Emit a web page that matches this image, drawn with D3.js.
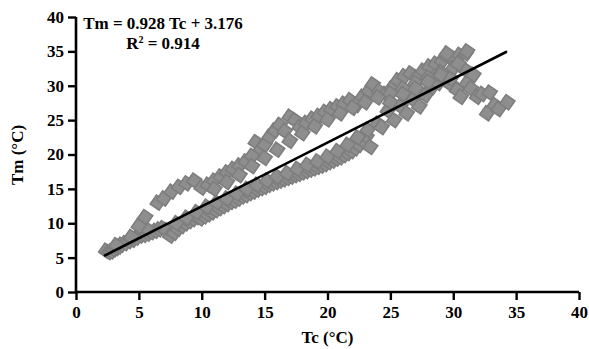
<!DOCTYPE html>
<html>
<head>
<meta charset="utf-8">
<script src="https://cdn.jsdelivr.net/npm/d3@7/dist/d3.min.js"></script>
<style>
  html, body { margin: 0; padding: 0; background: #fff; }
  svg text { font-family: "Times New Roman", "Liberation Serif", "DejaVu Serif", serif; font-weight: bold; fill: #000; }
</style>
</head>
<body>
<svg id="chart" width="589" height="349"></svg>
<script>
// ---- data ----
// lower branch
const lowTc = [2.4,2.6,2.8,3.0,3.2,3.4,3.6,3.9,4.2,4.5,4.8,5.1,5.4,5.7,6.0,6.3,6.6,6.9,7.2,7.5,7.8,8.1,8.4,8.7,9.0,9.3,9.6,9.9,10.2,10.5,10.8,11.1,11.4,11.7,12.0,12.3,12.6,12.9,13.2,13.5,13.8,14.1,14.4,14.7,15.0,15.3,15.6,15.9,16.2,16.5,16.8,17.1,17.4,17.7,18.0,18.3,18.6,18.9,19.2,19.5,19.8,20.1,20.4,20.7,21.0,21.3,21.6,21.9,22.2,22.5,22.8,23.1,23.4];
const lowTm = [6.0,5.8,5.9,6.2,6.4,6.6,6.9,7.1,7.4,7.6,7.9,8.2,8.3,8.5,8.7,8.9,9.1,9.3,9.0,8.2,8.6,9.2,9.6,10.0,10.3,10.6,10.9,10.7,11.0,11.3,11.6,11.9,12.2,12.5,12.8,13.1,13.3,13.6,13.9,14.1,14.4,14.6,14.9,15.1,15.3,15.6,15.8,16.0,16.2,16.4,16.6,16.8,17.0,17.2,17.4,17.6,17.8,18.0,18.2,18.4,18.6,18.9,19.1,19.4,19.6,19.9,20.2,20.5,20.9,21.4,22.0,22.6,21.1];
const low2Tc = [3.2,4.4,5.6,8.0,8.8,9.6,10.4,11.2,12.0,12.8,13.6,14.4,15.2,16.0,16.8,17.6,18.4,19.2,20.0,20.8,21.6,22.4,23.2,24.0];
const low2Tm = [6.8,8.0,9.2,10.0,10.8,11.6,12.4,13.0,13.6,14.3,15.0,15.6,16.2,16.8,17.3,17.9,18.5,19.0,19.7,20.5,21.4,22.5,23.6,24.5];
// upper branch
const upTc = [5.0,5.5,6.5,7.0,7.6,8.2,8.8,9.4,10.0,10.5,11.0,11.5,12.0,12.5,13.0,13.5,14.0,14.3,14.7,15.0,15.4,15.8,16.2,16.6,17.0,17.4,17.8,18.3,18.8,19.3,19.8,20.3,20.8,21.3,21.8,22.3,22.8,23.3,23.6,24.1,24.6,25.1,25.6,26.1,26.6,27.1,27.6,28.1,28.6,29.1,29.5,30.0,30.5,31.0];
const upTm = [9.6,10.9,13.0,13.6,14.6,15.3,15.8,16.2,15.2,15.6,16.2,16.8,17.4,17.9,18.4,19.0,19.8,21.8,20.8,21.4,22.6,23.5,24.3,23.4,25.5,25.0,24.0,24.6,25.2,25.6,26.2,26.6,27.0,27.4,27.9,27.2,28.4,29.3,30.2,29.2,28.8,29.6,30.8,31.4,31.8,31.2,32.2,32.8,33.2,33.6,34.3,34.0,34.5,34.7];
const up2Tc = [11.0,12.0,13.0,14.0,15.0,16.0,17.0,18.0,19.0,20.0,21.0,22.0,23.0,24.0,25.0,26.0,27.0,28.0,29.0];
const up2Tm = [15.0,16.0,17.0,18.3,19.5,20.7,22.0,23.1,24.1,25.1,26.0,26.8,27.6,28.3,28.9,29.6,30.4,31.2,32.0];
// middle cluster and falling tail
const midTc = [24.3,24.8,25.3,25.8,26.3,26.8,27.3,27.8,28.3,28.8,29.3,29.8,25.0,26.0,27.0,28.0,29.0,30.0];
const midTm = [24.0,26.4,25.0,27.0,26.0,28.0,27.0,28.6,29.8,30.4,31.0,30.2,27.6,28.8,29.6,30.6,31.6,32.6];
const tailTc = [29.8,30.3,30.6,31.1,31.4,31.9,32.3,32.9,33.3,32.7,33.6,34.3,30.9,31.6,29.5,31.1,30.4];
const tailTm = [31.0,29.4,28.4,30.4,29.6,28.4,28.8,29.0,27.2,26.0,26.6,27.6,32.4,31.6,34.7,35.0,33.2];

const slope = 0.928, intercept = 3.176, r2 = 0.914;
const fitRange = [2.3, 34.2];

const xTicks = [0, 5, 10, 15, 20, 25, 30, 35, 40];
const yTicks = [0, 5, 10, 15, 20, 25, 30, 35, 40];

const points = [];
[[lowTc, lowTm], [low2Tc, low2Tm], [upTc, upTm], [up2Tc, up2Tm], [midTc, midTm], [tailTc, tailTm]]
  .forEach(([tc, tm]) => tc.forEach((v, i) => points.push({ tc: v, tm: tm[i] })));

// ---- layout ----
const margin = { top: 17, right: 10, bottom: 57, left: 76 };
const W = 589, H = 349;
const w = W - margin.left - margin.right;
const h = H - margin.top - margin.bottom;

const svg = d3.select('#chart');
const g = svg.append('g').attr('transform', `translate(${margin.left},${margin.top})`);

const x = d3.scaleLinear().domain([0, 40]).range([0, w]);
const y = d3.scaleLinear().domain([0, 40]).range([h, 0]);

// points
const sym = d3.symbol().type(d3.symbolSquare).size(118);
g.append('g')
  .selectAll('path')
  .data(points)
  .enter()
  .append('path')
  .attr('d', sym)
  .attr('transform', d => `translate(${x(d.tc)},${y(d.tm)}) rotate(35)`)
  .attr('fill', '#8e8e8e')
  .attr('stroke', '#7e7e7e')
  .attr('stroke-width', 1.6);

// fitted line
g.append('line')
  .attr('x1', x(fitRange[0]))
  .attr('y1', y(slope * fitRange[0] + intercept))
  .attr('x2', x(fitRange[1]))
  .attr('y2', y(slope * fitRange[1] + intercept))
  .attr('stroke', '#000')
  .attr('stroke-width', 2.6)
  .attr('stroke-linecap', 'round');

// axes
const xAxis = g.append('g')
  .attr('transform', `translate(0,${h})`)
  .call(d3.axisBottom(x).tickValues(xTicks).tickSize(8).tickPadding(6).tickFormat(d3.format('d')));
const yAxis = g.append('g')
  .call(d3.axisLeft(y).tickValues(yTicks).tickSize(8).tickPadding(4).tickFormat(d3.format('d')));

[xAxis, yAxis].forEach(a => {
  a.select('.domain').attr('stroke', '#000').attr('stroke-width', 2.6)
  a.selectAll('.tick line').attr('stroke', '#000').attr('stroke-width', 2.4);
  a.selectAll('.tick text')
    .style('font-family', '"Times New Roman", "Liberation Serif", serif')
    .style('font-weight', 'bold')
    .style('font-size', '17px')
    .attr('fill', '#000');
});
// d3 draws outer ticks with the domain path; flatten them
xAxis.select('.domain').attr('d', `M0,0H${w}`);
yAxis.select('.domain').attr('d', `M0,${h}V0`);

// axis titles
svg.append('text')
  .attr('x', margin.left + x(20))
  .attr('y', 343)
  .attr('text-anchor', 'middle')
  .style('font-size', '17px')
  .text('Tc (°C)');

svg.append('text')
  .attr('transform', `translate(23,155) rotate(-90)`)
  .attr('text-anchor', 'middle')
  .style('font-size', '17px')
  .text('Tm (°C)');

// equation
const eq = svg.append('g');
eq.append('text')
  .attr('x', 163)
  .attr('y', 29)
  .attr('text-anchor', 'middle')
  .style('font-size', '17px')
  .text(`Tm = ${slope} Tc + ${intercept}`);
const r = eq.append('text')
  .attr('x', 163)
  .attr('y', 49)
  .attr('text-anchor', 'middle')
  .style('font-size', '17px');
r.append('tspan').text('R');
r.append('tspan').attr('dy', -6).style('font-size', '10px').text('2');
r.append('tspan').attr('dy', 6).text(` = ${r2}`);
</script>
</body>
</html>
